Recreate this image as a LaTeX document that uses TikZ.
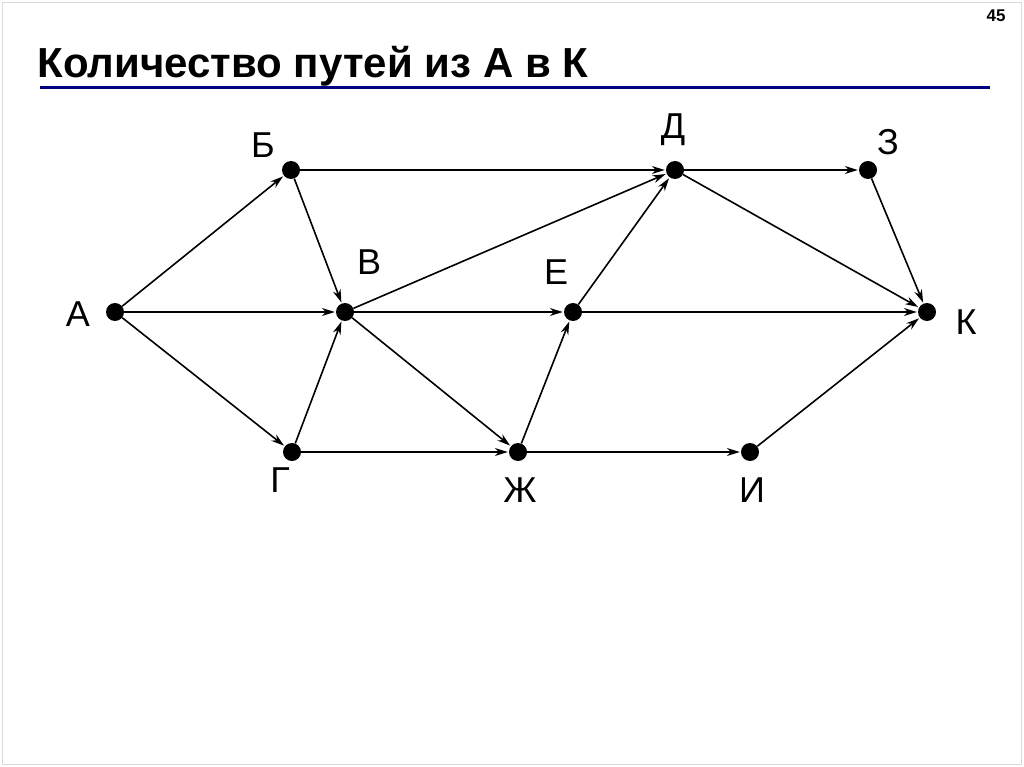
\documentclass[tikz,border=0pt]{standalone}
\usepackage{fontspec}
\setmainfont{Liberation Sans}
\usetikzlibrary{arrows.meta}
\begin{document}
\begin{tikzpicture}[x=1pt,y=-1pt,
  dot/.style={circle,fill=black,inner sep=0pt,minimum size=18pt},
  lbl/.style={font=\fontsize{36}{38}\selectfont},
  edge/.style={-{Stealth[length=13pt,width=8pt]},line width=1.6pt,shorten >=1pt}]
\useasboundingbox (0,0) rectangle (1024,767);
\draw[black!15] (2,2) rectangle (1021,764);
\node[font=\bfseries\fontsize{17}{19}\selectfont] (num) at (996,16) {45};
\node[anchor=west,font=\bfseries\fontsize{42}{44}\selectfont] (title) at (34,66) {Количество путей из А в К};
\draw[line width=3pt,blue!50!black] (40,88) -- (990,88);
\node[dot] (A) at (115,312) {};
\node[dot] (B) at (291,170) {};
\node[dot] (V) at (345,312) {};
\node[dot] (G) at (292,452) {};
\node[dot] (D) at (675,170) {};
\node[dot] (E) at (573,312) {};
\node[dot] (Zh) at (518,452) {};
\node[dot] (Z) at (868,170) {};
\node[dot] (I) at (750,452) {};
\node[dot] (K) at (927,312) {};
\node[lbl] at (78,314) {А};
\node[lbl] at (263,145) {Б};
\node[lbl] at (369,262) {В};
\node[lbl] at (280,480) {Г};
\node[lbl] at (673,130) {Д};
\node[lbl] at (556,272) {Е};
\node[lbl] at (520,490) {Ж};
\node[lbl] at (888,142) {З};
\node[lbl] at (752,490) {И};
\node[lbl] at (966,322) {К};
\foreach \a/\b in {A/B,A/V,A/G,B/V,B/D,G/V,G/Zh,V/D,V/E,V/Zh,Zh/E,E/D,E/K,D/Z,D/K,Z/K,Zh/I,I/K}
  \draw[edge] (\a) -- (\b);
\end{tikzpicture}
\end{document}
